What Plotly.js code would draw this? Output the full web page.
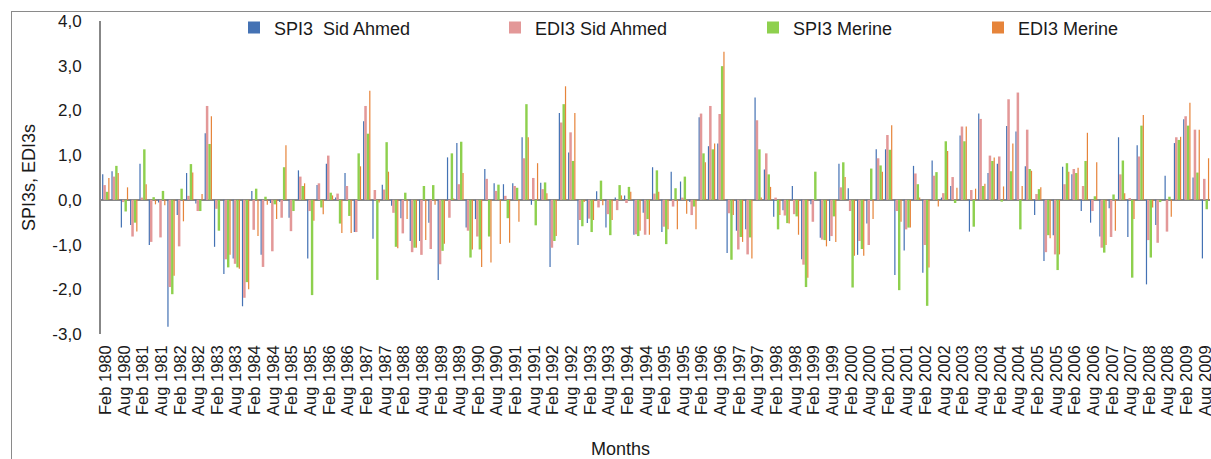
<!DOCTYPE html>
<html>
<head>
<meta charset="utf-8">
<script src="https://cdn.plot.ly/plotly-3.0.1.min.js"></script>
<style>
  html, body { margin: 0; padding: 0; background: #fff; overflow: hidden; }
  #frame { position: absolute; left: 11px; top: 11px; width: 1400px; height: 700px;
           border-left: 1px solid #8a8a8a; border-top: 1px solid #8a8a8a; }
  #chart { position: absolute; left: 0; top: 0; width: 1211px; height: 459px; }
</style>
</head>
<body>
<div id="frame"></div>
<div id="chart"></div>
<script>
// Quarterly time steps (Feb, May, Aug, Nov) from Feb 1980 to Aug 2009
const seasonMonths = ['Feb', 'May', 'Aug', 'Nov'];
const firstYear = 1980;
const nSteps = 119;

const spiSidAhmed = [
  0.57, 0.64, -0.62, -0.56, 0.81, -1.01, -0.06, -2.84, -0.34, 0.60,
  -0.08, 1.49, -1.05, -1.66, -1.31, -2.38, 0.20, -1.23, -0.07, -0.05,
  -0.40, 0.66, -1.31, 0.33, 0.81, 0.05, 0.60, -0.72, 1.76, -0.87,
  0.34, -0.13, -0.41, -0.92, -0.92, -0.51, -1.79, 0.95, 1.27, -0.62,
  -0.43, 0.69, 0.37, 0.35, 0.37, 1.40, -0.11, 0.38, -1.50, 1.94,
  1.06, -1.01, -0.52, 0.19, -0.62, 0.05, 0.10, -0.78, -0.29, 0.73,
  -0.72, 0.63, 0.41, -0.05, 1.85, 1.20, 1.26, -1.19, -0.69, -0.66,
  2.29, 0.68, -0.38, -0.23, 0.31, -1.33, -0.10, -0.85, -0.92, 0.81,
  0.26, -1.23, -0.53, 1.13, 1.13, -1.68, -1.13, 0.76, -1.63, 0.88,
  0.05, 0.31, 1.44, -0.71, 1.93, 0.60, 0.81, 1.65, 1.53, 0.75,
  -0.34, -1.37, -0.79, 0.74, 0.57, -0.25, -0.51, -0.82, -0.19, 1.40,
  -0.83, 1.22, -1.89, -0.56, 0.54, 1.27, 1.80, 0.50, -1.31
];

const ediSidAhmed = [
  0.33, 0.52, -0.05, -0.82, 0.05, -0.94, -0.84, -1.95, -1.04, 0.09,
  -0.25, 2.10, -0.20, -1.33, -1.43, -2.19, -0.67, -1.50, -1.15, -0.40,
  -0.70, 0.52, -0.25, 0.37, 0.99, 0.14, 0.31, -0.72, 2.10, 0.22,
  0.23, -0.29, -0.75, -1.17, -1.23, -1.10, -1.44, -0.40, 0.35, -0.69,
  -0.82, 0.47, 0.20, 0.09, 0.31, 0.93, 0.49, 0.24, -1.07, 1.73,
  1.51, -0.45, -0.42, -0.17, -0.32, -0.23, -0.07, -0.77, -0.78, 0.14,
  -0.60, -0.15, 0.05, -0.34, 1.93, 2.10, 1.92, -0.30, -1.11, -1.22,
  1.78, 1.04, 0.05, -0.35, -0.32, -1.45, -0.49, -0.89, -0.81, 0.28,
  -0.25, -0.92, -1.01, 0.93, 1.45, -0.25, -0.66, 0.59, -1.01, 0.54,
  0.15, 0.51, 1.64, 0.22, 1.81, 0.99, 0.97, 2.25, 2.40, 1.57,
  0.13, -1.17, -1.22, 0.35, 0.69, 0.31, -0.25, -1.07, -0.83, 0.57,
  0.04, 0.97, -0.90, -0.96, -0.71, 1.40, 1.87, 1.57, 0.47
];

const spiMerine = [
  0.18, 0.76, -0.26, -0.51, 1.13, 0.06, 0.20, -2.11, 0.25, 0.80,
  -0.25, 1.25, -0.69, -1.51, -1.51, -1.84, 0.25, 0.07, -0.10, 0.73,
  -0.25, 0.31, -2.13, -0.17, 0.16, -0.53, -0.36, 1.04, 1.48, -1.79,
  1.29, -1.05, 0.16, -1.07, 0.31, 0.33, -1.14, 1.04, 1.30, -1.29,
  -1.11, -0.82, 0.34, -0.41, 0.27, 2.14, -0.57, 0.39, -0.92, 2.14,
  0.87, -0.59, -0.72, 0.43, -0.79, 0.33, 0.29, -0.81, -0.43, 0.66,
  -0.99, 0.26, 0.52, -0.15, 1.04, 1.13, 2.99, -1.34, -0.83, -0.84,
  1.13, 0.57, -0.66, -0.52, -0.37, -1.95, 0.63, -0.90, -0.37, 0.84,
  -1.96, -1.10, 0.70, 0.77, 1.12, -2.02, -0.62, 0.35, -2.37, 0.62,
  1.31, -0.07, 1.31, -0.60, 0.31, 0.87, -0.04, 0.64, -0.66, 0.69,
  0.24, -0.79, -1.57, 0.82, 0.60, 0.87, 0.08, -1.18, 0.12, 0.88,
  -1.74, 1.66, -1.29, -0.05, 0.07, 1.34, 1.66, 0.61, -0.21
];

const ediMerine = [
  0.49, 0.60, 0.28, -0.71, 0.35, -0.10, -0.12, -1.70, -0.48, 0.61,
  0.13, 1.87, 0.00, -1.23, -1.54, -2.00, -0.81, -0.11, -0.43, 1.22,
  0.00, 0.37, -0.47, -0.32, 0.10, -0.74, -0.74, 0.75, 2.44, -0.06,
  0.63, -1.08, -0.43, -1.07, -0.90, -0.11, -0.98, 0.03, 0.60, -1.11,
  -1.50, -1.40, -0.99, -0.96, -0.49, 1.40, 0.82, 0.15, -0.81, 2.54,
  1.94, -0.05, -0.45, -0.12, -0.45, 0.10, 0.18, -0.69, -0.78, 0.18,
  -0.66, -0.66, -0.31, -0.66, 0.84, 1.26, 3.31, -0.34, -0.94, -1.31,
  0.05, 0.29, -0.34, -0.53, -0.78, -1.74, 0.00, -1.04, -0.94, 0.51,
  -1.25, -1.25, -0.43, 0.63, 1.67, -0.49, -0.62, 0.05, -1.51, -0.15,
  1.09, 0.27, 1.64, 0.25, 0.36, 0.95, 0.30, 1.26, 0.31, 0.65,
  0.28, -0.86, -1.22, 0.63, 0.72, 1.50, 0.84, -1.01, -0.69, 0.15,
  -0.43, 1.90, -0.17, 0.00, -0.38, 1.41, 2.17, 1.57, 0.93
];

const yTickVals = [-3, -2, -1, 0, 1, 2, 3, 4];
const yTickText = ['-3,0', '-2,0', '-1,0', '0,0', '1,0', '2,0', '3,0', '4,0'];

// category labels
const categories = [];
for (let i = 0; i < nSteps; i++) {
  categories.push(seasonMonths[i % 4] + ' ' + (firstYear + Math.floor(i / 4)));
}
const xTickLabels = categories.filter((c, i) => i % 2 === 0);

const font = '"Liberation Sans", Arial, sans-serif';

function bar(name, y, color, offset, width, legendId) {
  return {
    type: 'bar', name: name, x: categories, y: y,
    offset: offset, width: width,
    marker: { color: color, line: { width: 0 } },
    legend: legendId, hoverinfo: 'skip'
  };
}

const traces = [
  bar('SPI3\u00a0 Sid Ahmed', spiSidAhmed, '#4472b4', -0.38, 0.13, 'legend'),
  bar('EDI3 Sid Ahmed', ediSidAhmed, '#e39898', -0.25, 0.27, 'legend2'),
  bar('SPI3 Merine', spiMerine, '#8ed04e', 0.02, 0.26, 'legend3'),
  bar('EDI3 Merine', ediMerine, '#e6843a', 0.28, 0.13, 'legend4')
];

const plotL = 101, plotW = 1109;
function lx(px) { return (px - plotL) / plotW; }
const legFont = { family: font, size: 18, color: '#1a1a1a' };
function leg(px) {
  return { x: lx(px), y: 0.978, xanchor: 'left', yanchor: 'middle',
           orientation: 'h', font: legFont, bgcolor: 'rgba(0,0,0,0)',
           itemwidth: 30, tracegroupgap: 0 };
}

const layout = {
  width: 1211, height: 459,
  margin: { l: 101, r: 1, t: 21, b: 125 },
  paper_bgcolor: 'rgba(0,0,0,0)', plot_bgcolor: 'rgba(0,0,0,0)',
  barmode: 'overlay',
  font: { family: font, color: '#1a1a1a' },
  showlegend: true,
  legend: leg(234),
  legend2: leg(495),
  legend3: leg(753),
  legend4: leg(978),
  xaxis: {
    type: 'category',
    range: [-0.5, nSteps - 0.5],
    tickmode: 'array', tickvals: xTickLabels, ticktext: xTickLabels,
    tickangle: -90, tickfont: { family: font, size: 16.5, color: '#1a1a1a' },
    ticks: '', showline: false, showgrid: false, zeroline: false,
    ticklabelstandoff: 7, fixedrange: true
  },
  yaxis: {
    range: [-3, 4],
    tickmode: 'array', tickvals: yTickVals, ticktext: yTickText,
    tickfont: { family: font, size: 17, color: '#1a1a1a' },
    ticks: '', showline: true, linecolor: '#878787', linewidth: 2,
    showgrid: false, zeroline: true, zerolinecolor: '#878787', zerolinewidth: 2.5,
    ticklabelstandoff: 14,
    title: { text: 'SPI3s, EDI3s', font: { family: font, size: 18, color: '#1a1a1a' }, standoff: 12 },
    fixedrange: true
  },
  annotations: [{
    text: 'Months', xref: 'paper', yref: 'paper',
    x: lx(620), y: (334 - 449) / 313, xanchor: 'center', yanchor: 'middle',
    showarrow: false, font: { family: font, size: 18, color: '#1a1a1a' }
  }]
};

Plotly.newPlot('chart', traces, layout, { displayModeBar: false, staticPlot: true });
</script>
</body>
</html>
